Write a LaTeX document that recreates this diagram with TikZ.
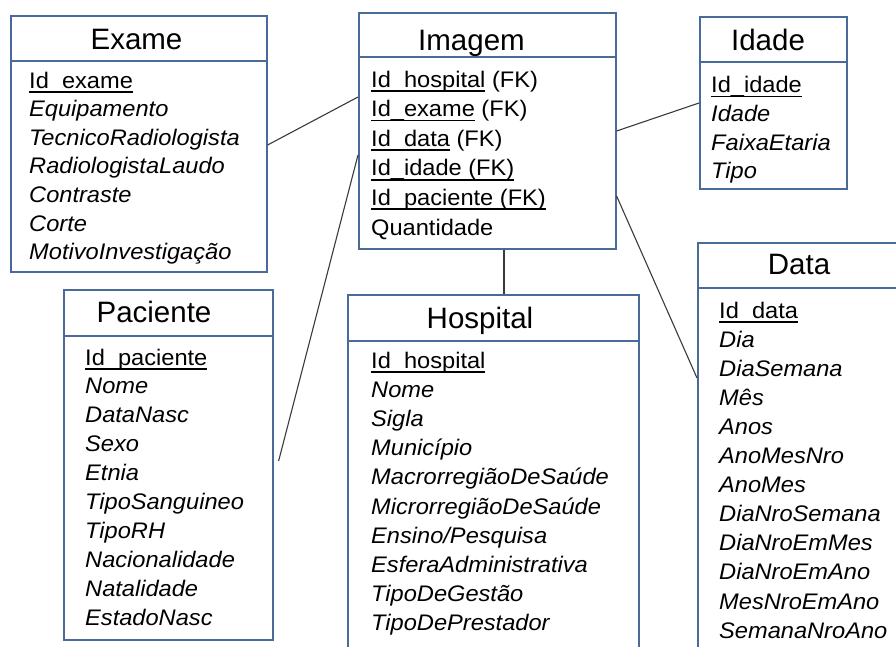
\documentclass[tikz,border=0pt]{standalone}
\usepackage{fontspec}
\setmainfont{Liberation Sans}
\newfontfamily\bodyf[FakeStretch=1.05]{Liberation Sans}
\newcommand\keyul[1]{\setbox0=\hbox{#1}\rlap{\rule[-4.7pt]{\wd0}{1.7pt}}\box0\relax}
\definecolor{boxblue}{HTML}{4A6A9A}
\definecolor{linegray}{HTML}{3A3A3A}
\begin{document}
\begin{tikzpicture}[x=1pt,y=-1pt,
  tbl/.style={draw=boxblue, line width=1.6pt, fill=white, rectangle, inner sep=0pt, anchor=north west},
  sepl/.style={draw=boxblue, line width=1.2pt},
  ttl/.style={anchor=base, inner sep=0pt, font=\fontsize{29.5}{30}\selectfont, text=black},
  row/.style={anchor=base west, inner sep=0pt, font=\bodyf\fontsize{22.5}{24}\selectfont, text=black},
  conn/.style={draw=linegray, line width=1.1pt}]
\useasboundingbox (0,0) rectangle (896,646);
\clip (0,0) rectangle (896,646);

% tables
\node[tbl, minimum width=256pt, minimum height=256pt] (exame) at (10,15) {};
\node[tbl, minimum width=257pt, minimum height=236pt] (img) at (358,12) {};
\node[tbl, minimum width=147pt, minimum height=172pt] (idade) at (699,16) {};
\node[tbl, minimum width=230pt, minimum height=440pt] (data) at (697,242) {};
\node[tbl, minimum width=209pt, minimum height=350pt] (pac) at (63,289) {};
\node[tbl, minimum width=291pt, minimum height=380pt] (hosp) at (347,294) {};

% header separators
\draw[sepl] (exame.west |- 0,61) -- (exame.east |- 0,61);
\draw[sepl] (img.west |- 0,57) -- (img.east |- 0,57);
\draw[sepl] (idade.west |- 0,62) -- (idade.east |- 0,62);
\draw[sepl] (data.west |- 0,288) -- (data.east |- 0,288);
\draw[sepl] (pac.west |- 0,336) -- (pac.east |- 0,336);
\draw[sepl] (hosp.west |- 0,341) -- (hosp.east |- 0,341);

% titles
\node[ttl] (exameT) at (136.5,49.3) {Exame};
\node[ttl] (imgT) at (471.5,50) {Imagem};
\node[ttl] (idadeT) at (768,50) {Idade};
\node[ttl] (dataT) at (799,274) {Data};
\node[ttl] (pacT) at (154,322) {Paciente};
\node[ttl] (hospT) at (480,328) {Hospital};

% Exame rows
\foreach \t [count=\i from 0] in {{\keyul{Id\_exame}},{\itshape Equipamento},{\itshape TecnicoRadiologista},{\itshape RadiologistaLaudo},{\itshape Contraste},{\itshape Corte},{\itshape MotivoInvestigação}}
  \node[row] (exr\i) at (29,88+28.6*\i) {\t};

% Imagem rows
\foreach \t [count=\i from 0] in {{\keyul{Id\_hospital} (FK)},{\keyul{Id\_exame} (FK)},{\keyul{Id\_data} (FK)},{\keyul{Id\_idade (FK)}},{\keyul{Id\_paciente (FK)}},{Quantidade}}
  \node[row] (imr\i) at (371,87+29.6*\i) {\t};

% Idade rows
\foreach \t [count=\i from 0] in {{\keyul{Id\_idade}},{\itshape Idade},{\itshape FaixaEtaria},{\itshape Tipo}}
  \node[row] (idr\i) at (711,92.5+28.8*\i) {\t};

% Data rows
\foreach \t [count=\i from 0] in {{\keyul{Id\_data}},{\itshape Dia},{\itshape DiaSemana},{\itshape Mês},{\itshape Anos},{\itshape AnoMesNro},{\itshape AnoMes},{\itshape DiaNroSemana},{\itshape DiaNroEmMes},{\itshape DiaNroEmAno},{\itshape MesNroEmAno},{\itshape SemanaNroAno}}
  \node[row] (dar\i) at (719,318+29.1*\i) {\t};

% Paciente rows
\foreach \t [count=\i from 0] in {{\keyul{Id\_paciente}},{\itshape Nome},{\itshape DataNasc},{\itshape Sexo},{\itshape Etnia},{\itshape TipoSanguineo},{\itshape TipoRH},{\itshape Nacionalidade},{\itshape Natalidade},{\itshape EstadoNasc}}
  \node[row] (par\i) at (85,365+28.9*\i) {\t};

% Hospital rows
\foreach \t [count=\i from 0] in {{\keyul{Id\_hospital}},{\itshape Nome},{\itshape Sigla},{\itshape Município},{\itshape MacrorregiãoDeSaúde},{\itshape MicrorregiãoDeSaúde},{\itshape Ensino/Pesquisa},{\itshape EsferaAdministrativa},{\itshape TipoDeGestão},{\itshape TipoDePrestador}}
  \node[row] (hor\i) at (371,368+29.2*\i) {\t};

% connectors
\draw[conn] (exame.east |- 0,145) -- (img.west |- 0,97);
\draw[conn] ([xshift=5pt]pac.east |- 0,461) -- (img.west |- 0,155);
\draw[conn] (img.east |- 0,131) -- (idade.west |- 0,103);
\draw[conn] (img.east |- 0,196) -- (data.west |- 0,378);
\draw[conn] (img.south -| 504,0) -- (hosp.north -| 504,0);
\end{tikzpicture}
\end{document}
